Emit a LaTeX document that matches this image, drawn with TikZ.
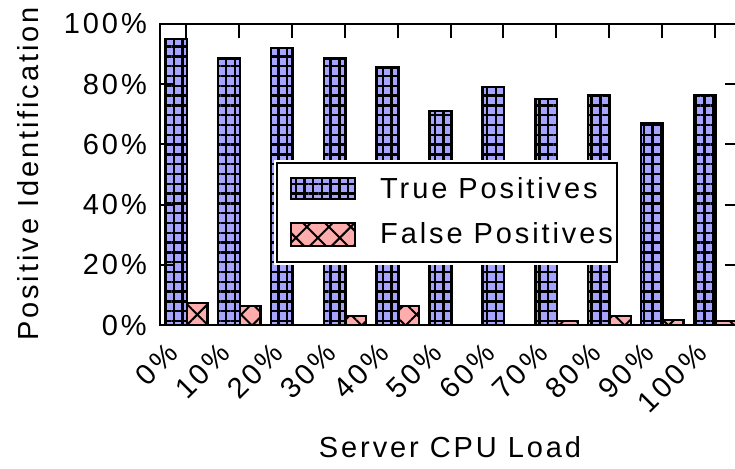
\documentclass[tikz,border=0pt]{standalone}
\usepackage{fontspec}
\setmainfont{Liberation Sans}[LetterSpace=10]
\usetikzlibrary{patterns.meta}
\definecolor{tpblue}{RGB}{165,165,255}
\definecolor{fppink}{RGB}{255,172,172}
\begin{document}
\begin{tikzpicture}[x=1pt,y=-1pt,
  font=\fontsize{29}{34}\selectfont,
  frameline/.style={line width=2.8pt},
  tickline/.style={line width=2pt},
  tpbar/.style={fill=tpblue, draw=black, line width=2.4pt,
    postaction={pattern={Lines[angle=90,distance=8.7pt,line width=2.5pt]}},
    postaction={pattern={Lines[angle=0,distance=9.8pt,line width=2.5pt]}}},
  fpbar/.style={fill=fppink, draw=black, line width=2.4pt,
    postaction={pattern={Lines[angle=45,distance=15.5pt,line width=2pt]}},
    postaction={pattern={Lines[angle=-45,distance=15.5pt,line width=2pt]}}},
  ticklabel/.style={inner sep=0pt},
]
\useasboundingbox (0,0) rectangle (735,468);
\clip (0,0) rectangle (735,468);

% value -> y position: y = 325 - 3.01*v
\def\base{325}
\def\scl{3.01}

% bars: index/label, true positives, false positives
\foreach \k/\lab/\tp/\fp in {0/0/95/7.3, 1/10/88.5/6.3, 2/20/92/0, 3/30/88.5/3,
    4/40/85.5/6.3, 5/50/71/0, 6/60/79/0, 7/70/75/1.4, 8/80/76.5/3,
    9/90/67.2/1.6, 10/100/76.5/1.3} {
  \pgfmathsetmacro\c{186+52.9*\k}
  \pgfmathsetmacro\ytp{\base-\scl*\tp}
  \pgfmathsetmacro\yfp{\base-\scl*\fp}
  \draw[tpbar] (\c-21,\base) rectangle (\c+0.8,\ytp);
  \ifdim\fp pt>0pt
    \draw[fpbar] (\c+0.8,\base) rectangle (\c+21.5,\yfp);
  \fi
  % top ticks
  \draw[tickline] (\c,24) -- (\c,38);
  % x tick labels
  \node[ticklabel, rotate=45, anchor=north east] (xl\k) at (\c-21,341) {\lab\%};
}

% y ticks and labels
\foreach \v in {0,20,40,60,80,100} {
  \pgfmathsetmacro\yy{\base-\scl*\v}
  \draw[tickline] (160,\yy) -- (173,\yy);
  \draw[tickline] (725,\yy) -- (738,\yy);
  \node[ticklabel, anchor=base east] (yl\v) at (147,\yy+10) {\v\%};
}

% plot frame
\draw[frameline] (160,325) -- (160,24) -- (738,24) -- (738,325) -- cycle;

% legend
\fill[white] (274,160) rectangle (620,265);
\draw[line width=1.8pt] (277,163) rectangle (617,262);
\draw[tpbar] (291,178) rectangle (355,199);
\draw[fpbar] (291,223) rectangle (355,246);
\node[ticklabel, anchor=base west] (legtp) at (380,198) {True Positives};
\node[ticklabel, anchor=base west] (legfp) at (380,243) {False Positives};

% axis titles
\node[ticklabel, rotate=90, anchor=base] (ytitle) at (38,174) {Positive Identification};
\node[ticklabel, anchor=base] (xtitle) at (450,457) {Server CPU Load};
\end{tikzpicture}
\end{document}
